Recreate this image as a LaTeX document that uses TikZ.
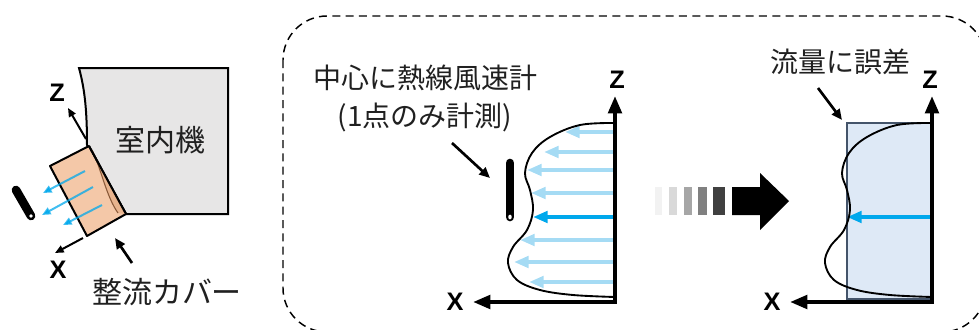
\documentclass[tikz,border=0pt]{standalone}
\usepackage{fontspec}
\setmainfont{Noto Sans CJK JP}
\newfontfamily\axfont{Liberation Sans}
\usetikzlibrary{arrows.meta}
\definecolor{unitgray}{HTML}{E7E6E6}
\definecolor{coverfill}{HTML}{F4C8A8}
\definecolor{coverdark}{HTML}{E8B48E}
\definecolor{coverline}{HTML}{8A5A3A}
\definecolor{flowblue}{HTML}{00A8EC}
\definecolor{flowlight}{HTML}{A5DBF4}
\definecolor{boxfill}{HTML}{DEE9F6}
\definecolor{boxline}{HTML}{44546A}
\definecolor{textcol}{HTML}{202020}
\begin{document}
\begin{tikzpicture}[x=0.75pt,y=-0.75pt,
  bigtext/.style={font=\fontsize{22.5}{26}\selectfont, text=textcol, inner sep=0},
  lbl/.style={font=\fontsize{21}{25}\selectfont, text=textcol, inner sep=0},
  axlbl/.style={font=\axfont\bfseries\fontsize{19}{21}\selectfont, inner sep=0},
  axisline/.style={line width=3pt, line cap=rect, -{Triangle[length=13pt,width=10pt]}},
  smallaxis/.style={line width=1.5pt, -{Triangle[length=6.5pt,width=5.5pt]}},
  pointer/.style={line width=2pt, -{Triangle[length=8pt,width=7pt]}},
  flowarrow/.style={line width=3pt, -{Triangle[length=11pt,width=8.5pt]}},
  profile/.style={line width=1.4pt, line join=round},
  probe/.style={line width=6.5pt, line cap=round},
]
\useasboundingbox (0,0) rectangle (979,329);

% ---------- left: indoor unit with flow-straightening cover ----------
\draw[line width=1.5pt, fill=unitgray]
  (79,68) -- (228,68) -- (228,214) -- (126,214) -- (87,145)
  .. controls (87,112) and (85,90) .. (79,68) -- cycle;
\node[bigtext] (unit) at (160,140) {室内機};

% cover body
\draw[line width=1.5pt, fill=coverfill, line join=round]
  (50,166) -- (89,146) -- (126,214) -- (87,236) -- cycle;
\fill[coverdark] (89,146) -- (126,214) -- (118,213)
  .. controls (106,196) and (101,168) .. (92,150) -- cycle;
\draw[coverline, line width=0.8pt] (92,150) .. controls (101,168) and (106,196) .. (118,213);
\draw[line width=1.5pt, line join=round] (89,146) -- (126,214);

% air leaving the cover
\coordinate (fa1) at (85,171);  \coordinate (fb1) at (43,193);
\coordinate (fa2) at (93,187);  \coordinate (fb2) at (42,215);
\coordinate (fa3) at (102,205); \coordinate (fb3) at (63,225);
\foreach \i in {1,2,3}
  \draw[flowblue, draw opacity=0.75, fill opacity=0.9, line width=1.5pt,
        -{Triangle[length=6.5pt,width=5.5pt]}] (fa\i) -- (fb\i);

% probe
\coordinate (pa) at (16,190);
\coordinate (pb) at (31,216);
\draw[probe] (pa) -- (pb);
\fill[white] (pb) circle (1.4pt);

% local axes
\coordinate (lo) at (86,139);
\coordinate (lz) at (68,108);
\draw[smallaxis] (lo) -- (lz);
\node[axlbl] (lzl) at (57,93) {Z};
\coordinate (lxo) at (83,238);
\coordinate (lx) at (55,253);
\draw[smallaxis] (lxo) -- (lx);
\node[axlbl] (lxl) at (58,270) {X};

\node[bigtext] (cover) at (167,292) {整流カバー};
\coordinate (cs) at (132,263);
\coordinate (cp) at (115,238);
\draw[pointer] (cs) -- (cp);

% ---------- dashed frame ----------
\draw[dashed, dash pattern=on 6pt off 4pt, line width=1.1pt, rounded corners=33pt]
  (283,16) rectangle (986,332);

% ---------- middle: measured profile ----------
\node[lbl] (m1) at (425,78) {中心に熱線風速計};
\node[lbl] (m2) at (425,117) {(1点のみ計測)};

\foreach \y/\tx in {132/565,152/544,170/527,193/531,240/520,262/514,282/529}
  \draw[flowlight, flowarrow] (615,\y) -- (\tx,\y);
\coordinate (mfs) at (615,217);
\coordinate (mft) at (533,217);
\draw[flowblue, flowarrow] (mfs) -- (mft);

\draw[profile] plot[smooth, tension=0.6] coordinates {
  (615,123) (580,125) (550,137) (532,153) (525,173) (530,190) (533,210)
  (527,230) (513,247) (508,263) (517,280) (540,290) (573,295) (615,297)};

\coordinate (mo) at (615,302);
\coordinate (mz) at (615,96);
\coordinate (mx) at (473,302);
\draw[axisline] (mo) -- (mz);
\draw[axisline] (mo) -- (mx);
\node[axlbl] (mzl) at (617,80) {Z};
\node[axlbl] (mxl) at (455,302) {X};

\coordinate (hpa) at (510,163);
\coordinate (hpb) at (510,217);
\draw[probe] (hpa) -- (hpb);
\fill[white] (hpb) ellipse (1.3pt and 1.8pt);

\coordinate (mp1) at (452,143);
\coordinate (mp2) at (490,178);
\draw[pointer] (mp1) -- (mp2);

% ---------- transition arrow ----------
\fill[black!5]  (655,187) rectangle (662,215);
\fill[black!15] (669,187) rectangle (677,215);
\fill[black!35] (684,187) rectangle (692,215);
\fill[black!50] (698,187) rectangle (707,215);
\fill[black!75] (713,187) rectangle (725,215);
\fill[black] (732,187) -- (760,187) -- (760,173) -- (789,201)
  -- (760,230) -- (760,215) -- (732,215) -- cycle;

% ---------- right: single-point estimate ----------
\node[lbl] (r1) at (840,62) {流量に誤差};
\draw[boxline, line width=0.8pt, fill=boxfill] (847,123) rectangle (932,299);

\coordinate (rfs) at (932,217);
\coordinate (rft) at (847,217);
\draw[flowblue, flowarrow] (rfs) -- (rft);

\draw[profile, xshift=317*0.75pt] plot[smooth, tension=0.6] coordinates {
  (615,123) (580,125) (550,137) (532,153) (525,173) (530,190) (533,210)
  (527,230) (513,247) (508,263) (517,280) (540,290) (573,295) (615,297)};

\coordinate (ro) at (932,302);
\coordinate (rz) at (932,96);
\coordinate (rx) at (790,302);
\draw[axisline] (ro) -- (rz);
\draw[axisline] (ro) -- (rx);
\node[axlbl] (rzl) at (930,80) {Z};
\node[axlbl] (rxl) at (772,302) {X};

\coordinate (rp1) at (818,88);
\coordinate (rp2) at (842,120);
\draw[pointer] (rp1) -- (rp2);
\end{tikzpicture}
\end{document}
